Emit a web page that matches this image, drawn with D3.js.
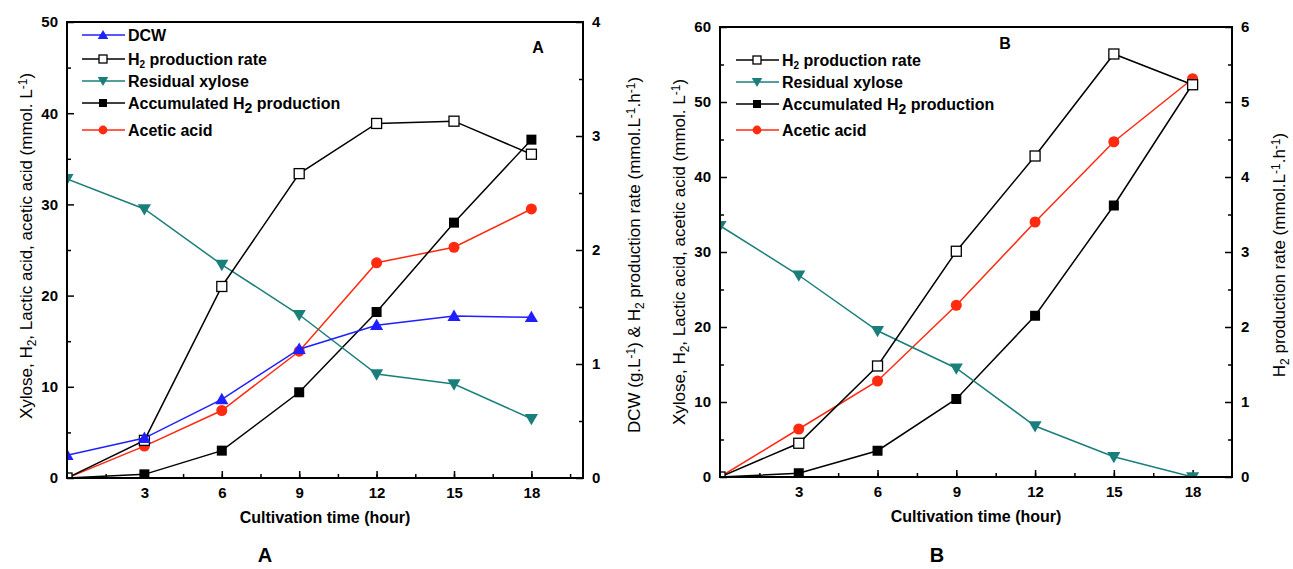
<!DOCTYPE html>
<html>
<head>
<meta charset="utf-8">
<script src="https://cdn.jsdelivr.net/npm/d3@7"></script>
<style>
  body { margin: 0; background: #fff; }
  svg { font-family: "Liberation Sans", Arial, sans-serif; }
</style>
</head>
<body>
<div id="chart"></div>
<script>
// cultivation time (hour)
var hours = [0, 3, 6, 9, 12, 15, 18];
var xTickLabels = [3, 6, 9, 12, 15, 18];

// panel A
var dcwA = [0.2, 0.35, 0.69, 1.13, 1.34, 1.42, 1.41];      // right axis
var rateA = [0, 0.33, 1.68, 2.67, 3.11, 3.13, 2.84];       // right axis
var xyloseA = [32.8, 29.5, 23.4, 17.9, 11.4, 10.3, 6.5];
var accH2A = [0, 0.4, 3.0, 9.4, 18.2, 28.0, 37.1];
var aceticA = [0, 3.5, 7.4, 13.9, 23.6, 25.3, 29.5];
var leftTicksA = [0, 10, 20, 30, 40, 50];
var rightTicksA = [0, 1, 2, 3, 4];

// panel B
var rateB = [0, 0.45, 1.48, 3.01, 4.28, 5.64, 5.23];       // right axis
var xyloseB = [33.5, 26.9, 19.5, 14.5, 6.8, 2.7, 0];
var accH2B = [0, 0.5, 3.5, 10.4, 21.5, 36.2, 52.4];
var aceticB = [0, 6.4, 12.8, 22.9, 34.0, 44.7, 53.1];
var leftTicksB = [0, 10, 20, 30, 40, 50, 60];
var rightTicksB = [0, 1, 2, 3, 4, 5, 6];

var width = 1293, height = 569;
var svg = d3.select("#chart").append("svg")
    .attr("width", width)
    .attr("height", height);

var colors = {dcw: "#1f1fff", rate: "#000", xylose: "#1a7f7a", acc: "#000", acetic: "#ff2a10"};

// text with sub / superscripts: parts = [["H"], ["2","sub"], ...]
function richText(g, parts, subSize) {
    parts.forEach(function(p) {
        var ts = g.append("tspan").text(p[0]);
        if (p[1] == "sub") ts.attr("font-size", subSize).attr("baseline-shift", "-30%");
        if (p[1] == "sup") ts.attr("font-size", subSize).attr("baseline-shift", "45%");
    });
}

// k = marker scale (legend markers are a bit smaller)
function marker(g, type, color, x, y, k) {
    k = k || 1;
    var h = 5 * k;
    if (type == "square") {
        g.append("rect").attr("x", x - h).attr("y", y - h).attr("width", 2 * h).attr("height", 2 * h)
            .attr("fill", "#fff").attr("stroke", "#000").attr("stroke-width", 1.3);
    } else if (type == "fsquare") {
        g.append("rect").attr("x", x - h).attr("y", y - h).attr("width", 2 * h).attr("height", 2 * h)
            .attr("fill", "#000");
    } else if (type == "circle") {
        g.append("circle").attr("cx", x).attr("cy", y).attr("r", 5.5 * k).attr("fill", color);
    } else if (type == "up") {
        g.append("path").attr("d", d3.symbol().type(d3.symbolTriangle).size(75 * k * k)())
            .attr("transform", "translate(" + x + "," + (y + 1) + ")").attr("fill", color);
    } else if (type == "down") {
        g.append("path").attr("d", d3.symbol().type(d3.symbolTriangle).size(75 * k * k)())
            .attr("transform", "translate(" + x + "," + (y - 1) + ") rotate(180)").attr("fill", color);
    }
}

function drawPanel(p) {
    var x = d3.scaleLinear().domain([0, p.xMax]).range([p.left, p.right]);
    var yL = d3.scaleLinear().domain([0, p.yLMax]).range([p.bottom, p.top]);
    var yR = d3.scaleLinear().domain([0, p.yRMax]).range([p.bottom, p.top]);
    var g = svg.append("g");
    var fmt = d3.format("d");

    // clip for the data marks
    g.append("clipPath").attr("id", "clip" + p.letter)
        .append("rect").attr("x", p.left).attr("y", p.top)
        .attr("width", p.right - p.left).attr("height", p.bottom - p.top);

    // minor ticks
    var minorX = d3.range(1.5, p.xMax, 1.5);
    g.append("g").attr("transform", "translate(0," + p.bottom + ")")
        .call(d3.axisBottom(x).tickValues(minorX).tickSize(-4).tickFormat(""));
    g.append("g").attr("transform", "translate(" + p.left + ",0)")
        .call(d3.axisLeft(yL).tickValues(d3.range(5, p.yLMax, 10)).tickSize(-4).tickFormat(""));
    g.append("g").attr("transform", "translate(" + p.right + ",0)")
        .call(d3.axisRight(yR).tickValues(d3.range(0.5, p.yRMax, 1)).tickSize(-4).tickFormat(""));

    // major axes
    g.append("g").attr("transform", "translate(0," + p.bottom + ")")
        .call(d3.axisBottom(x).tickValues(xTickLabels).tickSize(-7).tickPadding(9).tickFormat(fmt));
    g.append("g").attr("transform", "translate(" + p.left + ",0)")
        .call(d3.axisLeft(yL).tickValues(p.leftTicks).tickSize(-7).tickPadding(9).tickFormat(fmt));
    g.append("g").attr("transform", "translate(" + p.right + ",0)")
        .call(d3.axisRight(yR).tickValues(p.rightTicks).tickSize(-7).tickPadding(9).tickFormat(fmt));

    g.selectAll(".domain").remove();
    g.selectAll(".tick line").attr("stroke", "#000").attr("stroke-width", 1.5);
    g.selectAll(".tick text").attr("font-size", 15).attr("font-weight", "bold")
        .attr("font-family", "Liberation Sans, Arial, sans-serif").attr("fill", "#000");

    // series
    var plot = g.append("g").attr("clip-path", "url(#clip" + p.letter + ")");
    p.series.slice().reverse().forEach(function(s) {
        var ys = s.axis == "R" ? yR : yL;
        var line = d3.line().x(function(d, i) { return x(hours[i]); }).y(function(d) { return ys(d); });
        plot.append("path").datum(s.values).attr("d", line)
            .attr("fill", "none").attr("stroke", s.color).attr("stroke-width", 1.5);
        var mg = plot.append("g");
        s.values.forEach(function(v, i) { marker(mg, s.marker, s.color, x(hours[i]), ys(v)); });
    });

    // frame
    g.append("rect").attr("x", p.left).attr("y", p.top)
        .attr("width", p.right - p.left).attr("height", p.bottom - p.top)
        .attr("fill", "none").attr("stroke", "#000").attr("stroke-width", 2);

    // legend
    p.series.forEach(function(s, i) {
        var ly = p.legendY[i];
        g.append("line").attr("x1", p.legendX).attr("x2", p.legendX + 43)
            .attr("y1", ly).attr("y2", ly).attr("stroke", s.color).attr("stroke-width", 1.5);
        marker(g, s.marker, s.color, p.legendX + 21, ly, 0.8);
        var t = g.append("text").attr("x", p.legendX + 46).attr("y", ly + 6)
            .attr("font-size", 16).attr("font-weight", "bold");
        richText(t, s.label, s.subSize || 10);
    });

    // panel letter inside
    g.append("text").attr("x", p.letterX).attr("y", p.letterY)
        .attr("font-size", 16).attr("font-weight", "bold").attr("text-anchor", "middle").text(p.letter);

    // x title
    g.append("text").attr("x", (p.left + p.right) / 2).attr("y", p.bottom + 45)
        .attr("text-anchor", "middle").attr("font-size", 16).attr("font-weight", "bold")
        .text("Cultivation time (hour)");

    // y titles
    var lt = g.append("text").attr("text-anchor", "middle").attr("font-size", 17)
        .attr("transform", "translate(" + p.lTitleX + "," + p.lTitleY + ") rotate(-90)");
    richText(lt, p.lTitle, 12);
    var rt = g.append("text").attr("text-anchor", "middle").attr("font-size", 17)
        .attr("transform", "translate(" + p.rTitleX + "," + p.rTitleY + ") rotate(-90)");
    richText(rt, p.rTitle, 12);

    // letter below
    g.append("text").attr("x", p.bottomLetterX).attr("y", 562)
        .attr("text-anchor", "middle").attr("font-size", 20).attr("font-weight", "bold").text(p.letter);
}

var lTitle = [["Xylose, H"], ["2", "sub"], [", Lactic acid, acetic acid (mmol. L"], ["-1", "sup"], [")"]];

drawPanel({
    left: 67, right: 583, top: 22, bottom: 478, xMax: 20, yLMax: 50, yRMax: 4,
    leftTicks: leftTicksA, rightTicks: rightTicksA,
    letter: "A", letterX: 538, letterY: 53, bottomLetterX: 265,
    legendX: 82, legendY: [35, 59, 81, 103, 130],
    lTitleX: 32, lTitleY: 246, rTitleX: 640, rTitleY: 255,
    lTitle: lTitle,
    rTitle: [["DCW (g.L"], ["-1", "sup"], [") & H"], ["2", "sub"], [" production rate (mmol.L"], ["-1", "sup"], [".h"], ["-1", "sup"], [")"]],
    series: [
        {values: dcwA, axis: "R", color: colors.dcw, marker: "up", label: [["DCW"]]},
        {values: rateA, axis: "R", color: colors.rate, marker: "square", label: [["H"], ["2", "sub"], [" production rate"]], subSize: 10},
        {values: xyloseA, axis: "L", color: colors.xylose, marker: "down", label: [["Residual xylose"]]},
        {values: accH2A, axis: "L", color: colors.acc, marker: "fsquare", label: [["Accumulated H"], ["2", "sub"], [" production"]], subSize: 14},
        {values: aceticA, axis: "L", color: colors.acetic, marker: "circle", label: [["Acetic acid"]]}
    ]
});

drawPanel({
    left: 720, right: 1232, top: 27, bottom: 477, xMax: 19.5, yLMax: 60, yRMax: 6,
    leftTicks: leftTicksB, rightTicks: rightTicksB,
    letter: "B", letterX: 1005, letterY: 49, bottomLetterX: 937,
    legendX: 736, legendY: [60, 82, 104, 130],
    lTitleX: 685, lTitleY: 252, rTitleX: 1285, rTitleY: 255,
    lTitle: lTitle,
    rTitle: [["H"], ["2", "sub"], [" production rate (mmol.L"], ["-1", "sup"], [".h"], ["-1", "sup"], [")"]],
    series: [
        {values: rateB, axis: "R", color: colors.rate, marker: "square", label: [["H"], ["2", "sub"], [" production rate"]], subSize: 10},
        {values: xyloseB, axis: "L", color: colors.xylose, marker: "down", label: [["Residual xylose"]]},
        {values: accH2B, axis: "L", color: colors.acc, marker: "fsquare", label: [["Accumulated H"], ["2", "sub"], [" production"]], subSize: 14},
        {values: aceticB, axis: "L", color: colors.acetic, marker: "circle", label: [["Acetic acid"]]}
    ]
});
</script>
</body>
</html>
